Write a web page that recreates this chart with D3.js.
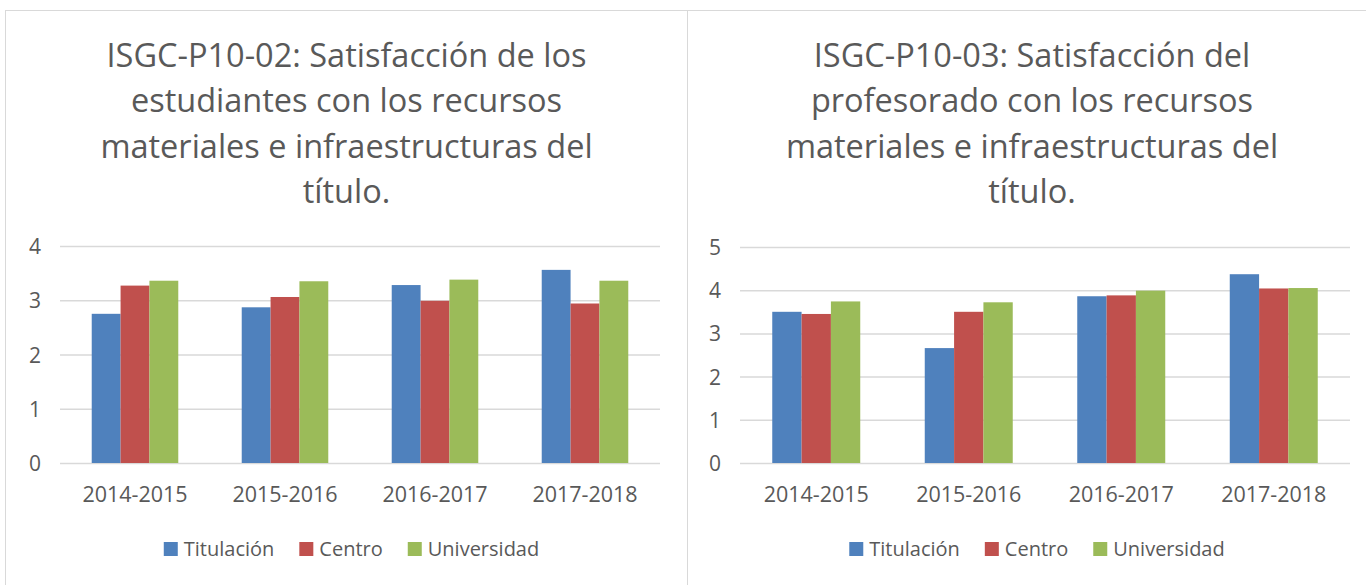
<!DOCTYPE html>
<html lang="en">

<head>
    <meta charset="UTF-8">
    <title>ISGC-P10</title>
    <script src="https://cdn.jsdelivr.net/npm/d3@7"></script>
    <style>
        body { margin: 0; background: #fff; }
        text { font-family: "Open Sans", "Noto Sans", sans-serif; fill: #595959; }
    </style>
</head>

<body>
    <svg></svg>
</body>
<script>
    // data
    const years = ['2014-2015', '2015-2016', '2016-2017', '2017-2018'];
    const seriesNames = ['Titulación', 'Centro', 'Universidad'];
    const colors = ['#4F81BD', '#C0504D', '#9BBB59'];

    const title1 = ['ISGC-P10-02: Satisfacción de los', 'estudiantes con los recursos', 'materiales e infraestructuras del', 'título.'];
    const titulacion1 = [2.75, 2.87, 3.28, 3.56];
    const centro1 = [3.27, 3.06, 2.99, 2.94];
    const universidad1 = [3.36, 3.35, 3.38, 3.36];
    const ticks1 = [0, 1, 2, 3, 4];

    const title2 = ['ISGC-P10-03: Satisfacción del', 'profesorado con los recursos', 'materiales e infraestructuras del', 'título.'];
    const titulacion2 = [3.50, 2.66, 3.86, 4.37];
    const centro2 = [3.45, 3.50, 3.88, 4.04];
    const universidad2 = [3.74, 3.72, 3.99, 4.05];
    const ticks2 = [0, 1, 2, 3, 4, 5];

    const width = 1366, height = 585;
    const svg = d3.select('svg').attr('width', width).attr('height', height);

    // frames of the two chart objects
    svg.append('rect')
        .attr('x', 5.5).attr('y', 10.5)
        .attr('width', 1420).attr('height', 620)
        .attr('fill', 'none').attr('stroke', '#D9D9D9');
    svg.append('line')
        .attr('x1', 687.5).attr('x2', 687.5).attr('y1', 10).attr('y2', height)
        .attr('stroke', '#D9D9D9');

    function drawChart(cfg) {
        const g = svg.append('g');
        const rows = years.map((y, i) => ({ year: y, values: cfg.series.map(s => s[i]) }));

        const x = d3.scaleBand().domain(years).range([cfg.x0, cfg.x1]).paddingInner(0.423).paddingOuter(0.2115);
        const xs = d3.scaleBand().domain(d3.range(seriesNames.length)).range([0, x.bandwidth()]);
        const y = d3.scaleLinear().domain([0, d3.max(cfg.ticks)]).range([463, cfg.yTop]);

        // title
        g.append('text')
            .attr('text-anchor', 'middle')
            .attr('font-size', 32.5)
            .selectAll('tspan')
            .data(cfg.title)
            .join('tspan')
            .attr('x', cfg.cx)
            .attr('y', (d, i) => 67 + i * 45.3)
            .text(d => d);

        // gridlines and y labels
        const yAxis = g.append('g')
            .attr('transform', `translate(${cfg.x0},0)`)
            .call(d3.axisLeft(y).tickValues(cfg.ticks).tickFormat(d3.format('d')).tickSize(-(cfg.x1 - cfg.x0)).tickPadding(19));
        yAxis.select('.domain').remove();
        yAxis.selectAll('line').attr('stroke', '#D9D9D9').attr('stroke-width', 1.5);
        yAxis.selectAll('text').attr('font-size', 21).attr('fill', '#595959').attr('dy', '0.36em');

        // bars
        g.append('g')
            .selectAll('g')
            .data(rows)
            .join('g')
            .attr('transform', d => `translate(${x(d.year)},0)`)
            .selectAll('rect')
            .data(d => d.values)
            .join('rect')
            .attr('x', (d, i) => xs(i))
            .attr('width', xs.bandwidth())
            .attr('y', d => y(d))
            .attr('height', d => y(0) - y(d))
            .attr('fill', (d, i) => colors[i]);

        // x labels
        const xAxis = g.append('g')
            .attr('transform', 'translate(0,463)')
            .call(d3.axisBottom(x).tickSize(0).tickPadding(24));
        xAxis.select('.domain').remove();
        xAxis.selectAll('text').attr('font-size', 21.5).attr('fill', '#595959');

        // legend
        const legend = g.append('g');
        let pos = 0;
        seriesNames.forEach((name, i) => {
            const item = legend.append('g').attr('transform', `translate(${pos},0)`);
            item.append('rect').attr('x', 0).attr('y', 542).attr('width', 14).attr('height', 14).attr('fill', colors[i]);
            const t = item.append('text').attr('x', 20).attr('y', 556).attr('font-size', 20).text(name);
            pos += 20 + t.node().getComputedTextLength() + 25;
        });
        legend.attr('transform', `translate(${cfg.cx + 5 - (pos - 25) / 2},0)`);
    }

    drawChart({ cx: 346.5, x0: 60, x1: 660, yTop: 246, ticks: ticks1, title: title1, series: [titulacion1, centro1, universidad1] });
    drawChart({ cx: 1032, x0: 740, x1: 1350, yTop: 247, ticks: ticks2, title: title2, series: [titulacion2, centro2, universidad2] });
</script>

</html>
